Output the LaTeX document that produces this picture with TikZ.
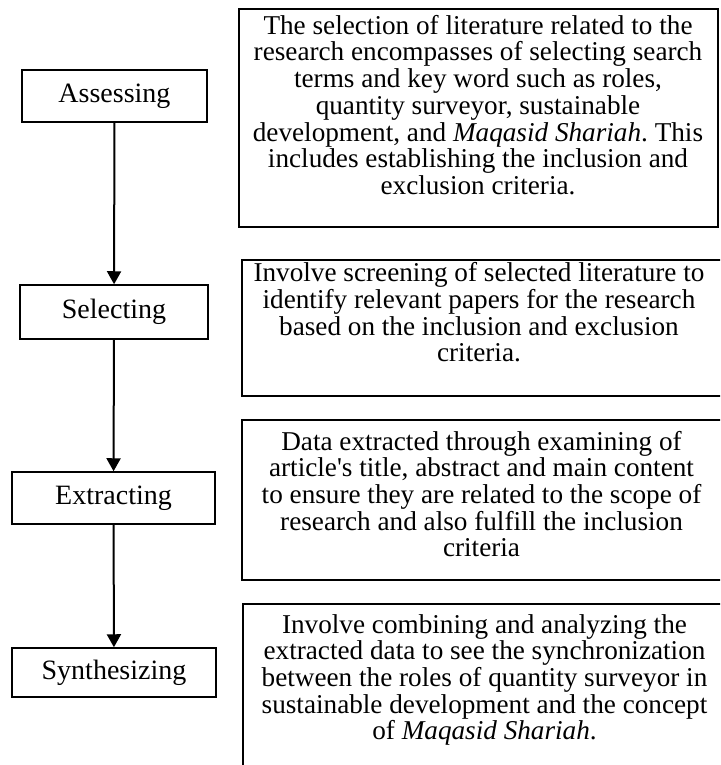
\documentclass[tikz,border=0pt]{standalone}
\usepackage{fontspec}
\setmainfont{Liberation Serif}
\usetikzlibrary{arrows.meta}
\frenchspacing

\begin{document}
\begin{tikzpicture}[x=0.5pt,y=-0.5pt,
        stageNode/.style = {draw=black,line width=0.75pt,minimum height=26pt,inner sep=0pt,font=\fontsize{14}{15}\selectfont},
        frameNode/.style = {draw=black,line width=0.75pt,inner sep=0pt},
        textNode/.style = {align=center,inner sep=0pt,font=\fontsize{13.6}{13.35}\selectfont},
        flowArrow/.style = {line width=1pt,-{Triangle[width=7pt,length=6.5pt]}}
        ]
        \useasboundingbox (0,0) rectangle (720,765);
        \clip (0,0) rectangle (720,765);
        % stages
        \node[stageNode,minimum width=92.5pt] (assess) at (114.5,96) {Assessing};
        \node[stageNode,minimum width=94pt,minimum height=27pt] (select) at (114,312) {Selecting};
        \node[stageNode,minimum width=101.5pt] (extract) at (113.5,498) {Extracting};
        \node[stageNode,minimum width=102pt,minimum height=24.5pt] (synth) at (114,672.5) {Synthesizing};
        \draw[flowArrow] (assess) -- (select);
        \draw[flowArrow] (select) -- (extract);
        \draw[flowArrow] (extract) -- (synth);
        % descriptions
        \node[frameNode,minimum width=239.5pt,minimum height=109pt] (frameA) at (478.5,118) {};
        \node[frameNode,minimum width=241pt,minimum height=68pt] (frameB) at (483,328) {};
        \node[frameNode,minimum width=241pt,minimum height=80pt] (frameC) at (483,500) {};
        \node[frameNode,minimum width=240.5pt,minimum height=93pt] (frameD) at (483.5,697) {};
        \node[textNode] (descA) at (478,105) {The selection of literature related to the\\
            research encompasses of selecting search\\
            terms and key word such as roles,\\
            quantity surveyor, sustainable\\
            development, and \textit{Maqasid Shariah}. This\\
            includes establishing the inclusion and\\
            exclusion criteria.};
        \node[textNode] (descB) at (479,312.5) {Involve screening of selected literature to\\
            identify relevant papers for the research\\
            based on the inclusion and exclusion\\
            criteria.};
        \node[textNode] (descC) at (481.5,494) {Data extracted through examining of\\
            article\textquotesingle s title, abstract and main content\\
            to ensure they are related to the scope of\\
            research and also fulfill the inclusion\\
            criteria};
        \node[textNode] (descD) at (484.5,680) {Involve combining and analyzing the\\
            extracted data to see the synchronization\\
            between the roles of quantity surveyor in\\
            sustainable development and the concept\\
            of \textit{Maqasid Shariah}.};
\end{tikzpicture}
\end{document}
